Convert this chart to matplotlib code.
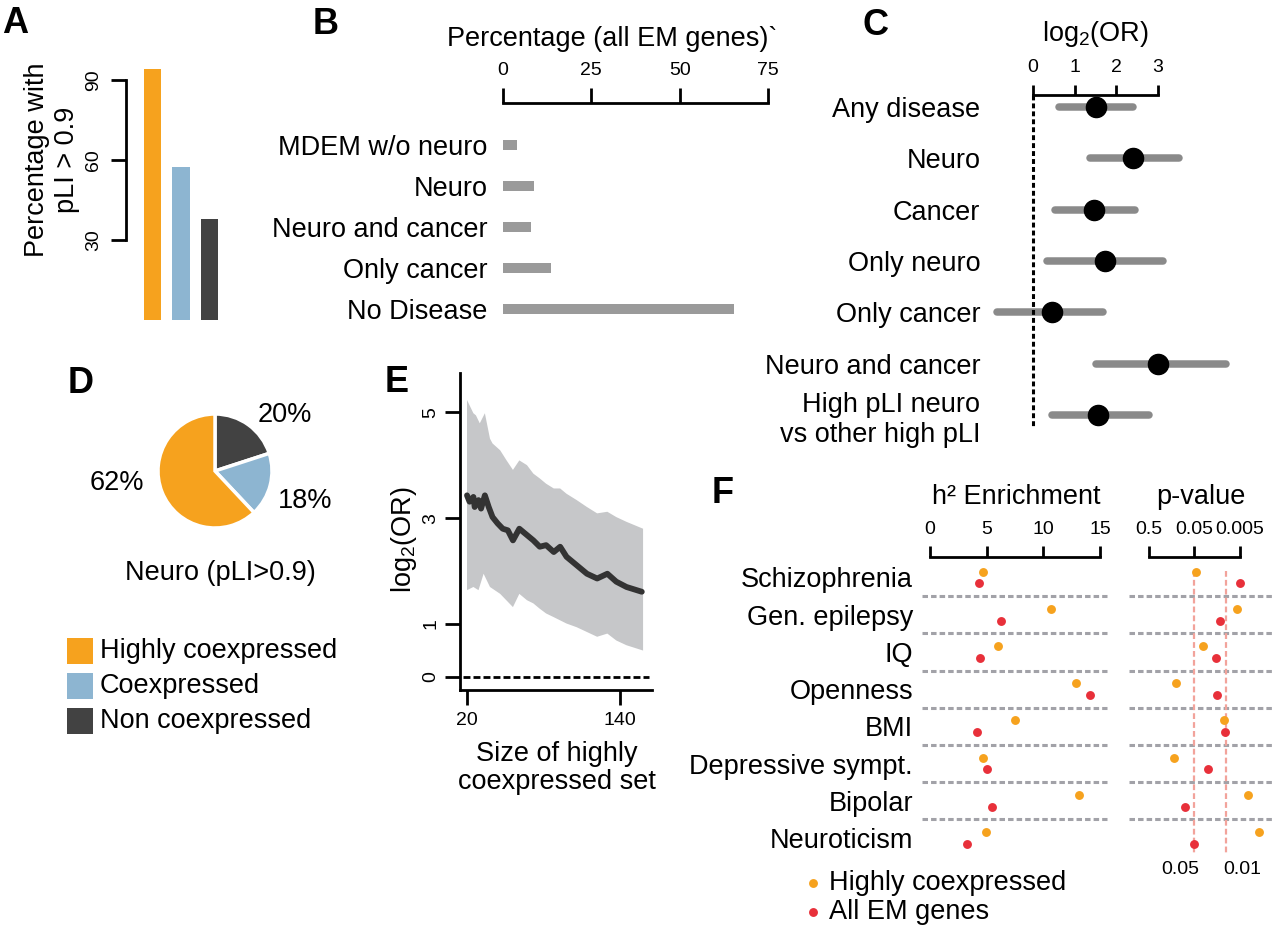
import numpy as np
import matplotlib
matplotlib.use("Agg")
import matplotlib.pyplot as plt
from matplotlib.patches import Rectangle

plt.rcParams["font.family"] = ["Liberation Sans", "DejaVu Sans"]
plt.rcParams["mathtext.fontset"] = "custom"
plt.rcParams["mathtext.rm"] = "Liberation Sans"
plt.rcParams["mathtext.it"] = "Liberation Sans:italic"
plt.rcParams["mathtext.bf"] = "Liberation Sans:bold"

W, H = 1280, 925
ORANGE = "#F6A21E"
BLUE = "#8DB5D1"
DARK = "#424242"
RED = "#E8303A"
BAR_GRAY = "#9a9a9a"
LAB = 19.5
TICK = 14

# --- A: percentage with pLI > 0.9
groups = ["Highly coexpressed", "Coexpressed", "Non coexpressed"]
pli_pct = [94, 57.5, 38]

# --- B: percentage of all EM genes
b_cats = ["MDEM w/o neuro", "Neuro", "Neuro and cancer", "Only cancer", "No Disease"]
b_pct = [3.9, 8.9, 7.9, 13.7, 65.5]

# --- C: log2(OR) with intervals
c_cats = ["Any disease", "Neuro", "Cancer", "Only neuro", "Only cancer",
          "Neuro and cancer", "High pLI neuro\nvs other high pLI"]
c_est = [1.51, 2.41, 1.46, 1.73, 0.45, 3.00, 1.57]
c_lo = [0.63, 1.37, 0.53, 0.34, -0.86, 1.51, 0.45]
c_hi = [2.41, 3.49, 2.45, 3.11, 1.69, 4.64, 2.77]

# --- D: pie of neuro genes (pLI > 0.9)
pie_pct = [62, 18, 20]

# --- E: log2(OR) vs size of highly coexpressed set
e_size = [20, 22, 25, 26, 29, 31, 34, 37, 40, 44, 48, 52, 56, 61, 67, 72, 77,
          82, 88, 93, 98, 106, 114, 122, 130, 137, 145, 157]
e_log2or = [3.43, 3.31, 3.40, 3.21, 3.34, 3.18, 3.43, 3.21, 3.02, 2.90, 2.80,
            2.77, 2.58, 2.80, 2.68, 2.58, 2.46, 2.49, 2.36, 2.46, 2.27, 2.11,
            1.95, 1.86, 1.95, 1.80, 1.70, 1.61]
e_up_x = [20, 25, 27, 30, 34, 38, 40, 46, 51, 56, 61, 67, 72, 77, 82, 88, 93,
          98, 106, 114, 122, 130, 137, 145, 158]
e_up = [5.23, 4.98, 4.94, 4.79, 4.98, 4.50, 4.41, 4.28, 4.09, 3.91, 4.09, 4.00,
        3.84, 3.75, 3.65, 3.56, 3.56, 3.46, 3.34, 3.21, 3.09, 3.12, 3.02, 2.93, 2.80]
e_lo_x = [20, 25, 29, 33, 38, 46, 56, 61, 67, 72, 77, 82, 88, 98, 106, 114, 122,
          130, 137, 145, 158]
e_lo = [1.64, 1.70, 1.64, 1.95, 1.70, 1.57, 1.32, 1.57, 1.45, 1.39, 1.29, 1.20,
        1.13, 1.01, 0.94, 0.85, 0.76, 0.82, 0.69, 0.60, 0.50]

# --- F: heritability enrichment and p-values
traits = ["Schizophrenia", "Gen. epilepsy", "IQ", "Openness", "BMI",
          "Depressive sympt.", "Bipolar", "Neuroticism"]
h2_hc = [4.71, 10.71, 5.97, 12.9, 7.48, 4.71, 13.14, 4.95]
h2_all = [4.32, 6.23, 4.38, 14.15, 4.15, 5.05, 5.49, 3.27]
p_hc = [0.046, 0.0058, 0.032, 0.126, 0.011, 0.138, 0.0034, 0.0019]
p_all = [0.0049, 0.014, 0.017, 0.016, 0.0107, 0.025, 0.079, 0.052]
p_ticks = [0.5, 0.05, 0.005]
p_lines = [0.05, 0.01]


fig = plt.figure(figsize=(W / 100, H / 100), dpi=100)


def add_ax(x0, y0, x1, y1):
    # pixel box (left, top, right, bottom) -> figure axes
    return fig.add_axes([x0 / W, 1 - y1 / H, (x1 - x0) / W, (y1 - y0) / H])


def ftext(x, y, s, **kw):
    return fig.text(x / W, 1 - y / H, s, **kw)


def panel_letter(x, y, s):
    ftext(x, y, s, fontsize=26, fontweight="bold", ha="left", va="baseline")


def clean(ax, keep):
    for side in ["top", "bottom", "left", "right"]:
        ax.spines[side].set_visible(side in keep)
        ax.spines[side].set_linewidth(2)


# ---------------- A
axA = add_ax(126, 60, 230, 320)
axA.bar(range(3), pli_pct, width=0.6, color=[ORANGE, BLUE, DARK])
axA.set_xlim(-0.93, 2.72)
axA.set_ylim(0, 97.5)
clean(axA, ["left"])
axA.spines["left"].set_bounds(30, 90)
axA.set_yticks([30, 60, 90])
axA.set_xticks([])
axA.tick_params(axis="y", length=11, width=2, labelsize=TICK, pad=6)
for t in axA.get_yticklabels():
    t.set_rotation(90)
    t.set_va("center")
ftext(52, 160, "Percentage with\npLI > 0.9", rotation=90, ha="center",
      va="center", fontsize=LAB)
panel_letter(2, 33, "A")

# ---------------- B
axB = add_ax(503, 103, 780, 330)
axB.barh(range(len(b_cats)), b_pct, height=0.25, color=BAR_GRAY)
axB.set_xlim(0, 78.4)
axB.set_ylim(4.512, -1.024)
clean(axB, ["top"])
axB.spines["top"].set_bounds(0, 75)
axB.xaxis.tick_top()
axB.set_xticks([0, 25, 50, 75])
axB.tick_params(axis="x", length=11, width=2, labelsize=TICK, pad=6)
axB.set_yticks(range(len(b_cats)))
axB.set_yticklabels(b_cats, fontsize=LAB)
axB.tick_params(axis="y", length=0, pad=11)
ftext(612, 39, "Percentage (all EM genes)`", ha="center", va="center", fontsize=LAB)
panel_letter(313, 34, "B")

# ---------------- C
axC = add_ax(990, 95, 1240, 440)
rows_c = np.arange(len(c_cats))
axC.hlines(rows_c, c_lo, c_hi, colors="#8a8a8a", linewidth=5.4, capstyle="round")
axC.plot(c_est, rows_c, "o", color="black", markersize=14.5)
axC.vlines(0, -0.234, 6.24, colors="black", linewidth=2.2, linestyles=(0, (1.6, 1.0)))
axC.set_xlim(-1.031, 4.964)
axC.set_ylim(6.49, -0.234)
clean(axC, ["top"])
axC.spines["top"].set_bounds(0, 3)
axC.xaxis.tick_top()
axC.set_xticks([0, 1, 2, 3])
axC.tick_params(axis="x", length=7, width=2, labelsize=TICK, pad=7)
axC.set_yticks(rows_c)
axC.set_yticklabels(c_cats, fontsize=LAB, multialignment="right")
axC.tick_params(axis="y", length=0, pad=7)
ftext(1095, 34, r"log$_2$(OR)", ha="center", va="center", fontsize=LAB)
panel_letter(863, 35, "C")

# ---------------- D
axD = add_ax(158, 414, 272, 528)
axD.pie(pie_pct[::-1], colors=[DARK, BLUE, ORANGE], startangle=90,
        counterclock=False, wedgeprops=dict(edgecolor="white", linewidth=2.5))
axD.set_xlim(-1, 1)
axD.set_ylim(-1, 1)
axD.text(1.23, 0.99, f"{pie_pct[2]}%", ha="center", va="center", fontsize=LAB, clip_on=False)
axD.text(1.58, -0.53, f"{pie_pct[1]}%", ha="center", va="center", fontsize=LAB, clip_on=False)
axD.text(-1.72, -0.21, f"{pie_pct[0]}%", ha="center", va="center", fontsize=LAB, clip_on=False)
ftext(220, 573, "Neuro (pLI>0.9)", ha="center", va="center", fontsize=LAB)
for i, (name, col) in enumerate(zip(groups, [ORANGE, BLUE, DARK])):
    yc = 651 + 35 * i
    fig.add_artist(Rectangle((67 / W, 1 - (yc + 13) / H), 26 / W, 26 / H,
                             transform=fig.transFigure, facecolor=col, edgecolor="none"))
    ftext(100, yc, name, ha="left", va="center", fontsize=LAB)
panel_letter(68, 393, "D")

# ---------------- E
axE = add_ax(460, 373, 652, 690)
axE.fill(np.r_[e_up_x, e_lo_x[::-1]], np.r_[e_up, e_lo[::-1]], color="#c6c7c9", linewidth=0)
axE.plot(e_size, e_log2or, color="#333333", linewidth=4.2,
         solid_joinstyle="round", solid_capstyle="round")
axE.hlines(0, 17, 163, colors="black", linewidth=2, linestyles=(0, (2.5, 1.1)))
axE.set_xlim(14.5, 165)
axE.set_ylim(-0.245, 5.74)
clean(axE, ["left", "bottom"])
axE.set_xticks([20, 140])
axE.set_yticks([0, 1, 3, 5])
axE.tick_params(length=11, width=2, labelsize=TICK)
axE.tick_params(axis="x", pad=5)
axE.tick_params(axis="y", pad=4)
for t in axE.get_yticklabels():
    t.set_rotation(90)
    t.set_va("center")
ftext(404, 540, r"log$_2$(OR)", rotation=90, ha="center", va="center", fontsize=LAB)
ftext(557, 768, "Size of highly\ncoexpressed set", ha="center", va="center",
      fontsize=LAB, linespacing=1.1)
panel_letter(385, 392, "E")

# ---------------- F
rows_f = np.arange(len(traits))
sep_color = "#a2a2a8"
DOT = 6.4

axF1 = add_ax(920, 557, 1110, 850)
axF1.set_xlim(-0.883, 15.88)
axF1.set_ylim(7.325, -0.551)
for r in rows_f[:-1]:
    axF1.hlines(r + 0.5, -0.7, 15.6, colors=sep_color, linewidth=2.2,
                linestyles=(0, (1.8, 1.0)), clip_on=False)
axF1.plot(h2_hc, rows_f - 0.16, "o", color=ORANGE, markersize=DOT, markeredgewidth=0)
axF1.plot(h2_all, rows_f + 0.16, "o", color=RED, markersize=DOT, markeredgewidth=0)
clean(axF1, ["top"])
axF1.spines["top"].set_bounds(0, 15)
axF1.xaxis.tick_top()
axF1.set_xticks([0, 5, 10, 15])
axF1.tick_params(axis="x", length=8, width=2, labelsize=TICK, pad=6)
axF1.set_yticks(rows_f)
axF1.set_yticklabels(traits, fontsize=LAB)
axF1.tick_params(axis="y", length=0, pad=5)
ftext(1016, 497, "h² Enrichment", ha="center", va="center", fontsize=LAB)

axF2 = add_ax(1125, 557, 1275, 850)
axF2.set_xlim(-0.219, 3.07)
axF2.set_ylim(7.325, -0.551)
for r in rows_f[:-1]:
    axF2.hlines(r + 0.5, -0.131, 3.005, colors=sep_color, linewidth=2.2,
                linestyles=(0, (1.8, 1.0)), clip_on=False)
for pv in p_lines:
    axF2.vlines(-np.log10(pv), -0.17, 7.46, colors="#F2A39B", linewidth=1.6,
                linestyles=(0, (2.6, 1.4)), clip_on=False)
axF2.plot(-np.log10(p_hc), rows_f - 0.16, "o", color=ORANGE, markersize=DOT,
          markeredgewidth=0, clip_on=False)
axF2.plot(-np.log10(p_all), rows_f + 0.16, "o", color=RED, markersize=DOT,
          markeredgewidth=0, clip_on=False)
clean(axF2, ["top"])
axF2.spines["top"].set_bounds(-np.log10(p_ticks[0]), -np.log10(p_ticks[-1]))
axF2.xaxis.tick_top()
axF2.set_xticks(-np.log10(p_ticks))
axF2.set_xticklabels([str(p) for p in p_ticks])
axF2.tick_params(axis="x", length=8, width=2, labelsize=TICK, pad=6)
axF2.set_yticks([])
ftext(1201, 497, "p-value", ha="center", va="center", fontsize=LAB)
ftext(1180, 870, str(p_lines[0]), ha="center", va="center", fontsize=TICK)
ftext(1242, 870, str(p_lines[1]), ha="center", va="center", fontsize=TICK)

# legend of F
for i, (name, col) in enumerate(zip(["Highly coexpressed", "All EM genes"], [ORANGE, RED])):
    yc = 883 + 29 * i
    fig.add_artist(plt.Line2D([813 / W], [1 - yc / H], marker="o", color=col,
                              markersize=DOT, markeredgewidth=0, linestyle="none",
                              transform=fig.transFigure))
    ftext(829, yc, name, ha="left", va="center", fontsize=LAB)
panel_letter(712, 503, "F")

fig.savefig("out.png", dpi=100)
